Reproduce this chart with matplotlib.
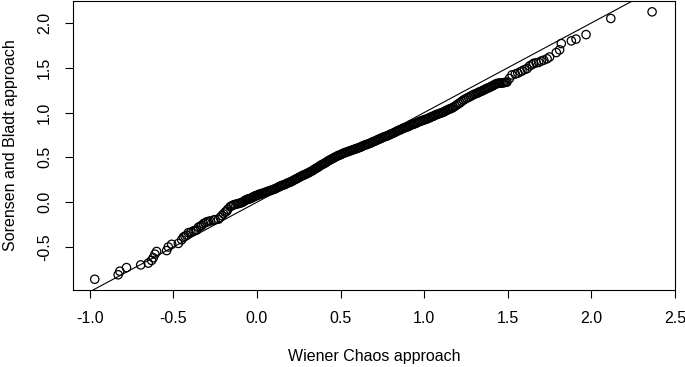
import matplotlib
matplotlib.use("Agg")
import matplotlib.pyplot as plt

plt.rcParams['font.family'] = ['Liberation Sans', 'DejaVu Sans']

# Sorted pairs: Wiener Chaos approach (x) vs Sorensen and Bladt approach (y)
# lower tail
low_x = [-0.97, -0.83, -0.82, -0.78, -0.695, -0.65, -0.63, -0.62, -0.61, -0.60,
         -0.54, -0.53, -0.51, -0.47, -0.45, -0.44, -0.43, -0.42, -0.41, -0.395,
         -0.38, -0.37, -0.36, -0.35, -0.34, -0.33, -0.32, -0.31, -0.30, -0.29,
         -0.28, -0.26, -0.25, -0.23, -0.22, -0.21, -0.20, -0.19, -0.18, -0.175,
         -0.16, -0.15, -0.14, -0.13, -0.12, -0.11]
low_y = [-0.86, -0.81, -0.77, -0.73, -0.70, -0.68, -0.65, -0.62, -0.58, -0.55,
         -0.54, -0.50, -0.47, -0.46, -0.42, -0.39, -0.38, -0.37, -0.34, -0.335,
         -0.32, -0.315, -0.31, -0.28, -0.27, -0.26, -0.24, -0.23, -0.22, -0.215,
         -0.21, -0.20, -0.195, -0.19, -0.17, -0.15, -0.13, -0.11, -0.10, -0.08,
         -0.05, -0.04, -0.03, -0.025, -0.02, -0.015]

# dense middle band
mid_x = [-0.100, -0.092, -0.085, -0.078, -0.070, -0.065, -0.060, -0.055, -0.050, -0.045,
         -0.040, -0.035, -0.030, -0.025, -0.020, -0.015, -0.010, -0.005, 0.000, 0.005,
         0.010, 0.015, 0.020, 0.028, 0.035, 0.043, 0.050, 0.058, 0.065, 0.073,
         0.080, 0.088, 0.095, 0.103, 0.110, 0.118, 0.125, 0.133, 0.140, 0.148,
         0.155, 0.163, 0.170, 0.178, 0.185, 0.193, 0.200, 0.208, 0.215, 0.223,
         0.230, 0.238, 0.245, 0.253, 0.260, 0.268, 0.275, 0.283, 0.290, 0.298,
         0.305, 0.313, 0.320, 0.328, 0.335, 0.343, 0.350, 0.358, 0.365, 0.373,
         0.380, 0.388, 0.395, 0.403, 0.410, 0.418, 0.425, 0.433, 0.440, 0.448,
         0.455, 0.463, 0.470, 0.478, 0.485, 0.493, 0.500, 0.508, 0.515, 0.523,
         0.530, 0.538, 0.545, 0.553, 0.560, 0.568, 0.575, 0.583, 0.590, 0.598,
         0.605, 0.613, 0.620, 0.628, 0.635, 0.643, 0.650, 0.658, 0.665, 0.673,
         0.680, 0.688, 0.695, 0.703, 0.710, 0.718, 0.725, 0.733, 0.740, 0.748,
         0.755, 0.763, 0.770, 0.778, 0.785, 0.793, 0.800, 0.808, 0.815, 0.823,
         0.830, 0.838, 0.845, 0.853, 0.860, 0.868, 0.875, 0.883, 0.890, 0.898,
         0.905, 0.913, 0.920, 0.928, 0.935, 0.943, 0.950, 0.958, 0.965, 0.973,
         0.980, 0.988, 0.995, 1.003, 1.010, 1.018, 1.025, 1.033, 1.040, 1.048,
         1.055, 1.063, 1.070, 1.078, 1.085, 1.093, 1.100, 1.108, 1.115, 1.123,
         1.130, 1.138, 1.145, 1.153, 1.160, 1.168, 1.175, 1.185, 1.195, 1.205,
         1.215, 1.225, 1.235, 1.245, 1.255, 1.265, 1.275, 1.285, 1.295, 1.305,
         1.315, 1.323, 1.330, 1.338, 1.345, 1.353, 1.360, 1.368, 1.375, 1.383,
         1.390, 1.398, 1.405, 1.413, 1.420, 1.428, 1.435, 1.443, 1.450, 1.458,
         1.465, 1.473, 1.480, 1.488, 1.495]
mid_y = [-0.010, -0.005, 0.000, 0.010, 0.020, 0.025, 0.030, 0.032, 0.035, 0.038,
         0.040, 0.045, 0.050, 0.055, 0.060, 0.065, 0.070, 0.072, 0.075, 0.080,
         0.085, 0.088, 0.090, 0.095, 0.100, 0.105, 0.110, 0.115, 0.120, 0.125,
         0.130, 0.135, 0.140, 0.145, 0.150, 0.158, 0.165, 0.172, 0.180, 0.185,
         0.190, 0.195, 0.200, 0.208, 0.215, 0.220, 0.225, 0.232, 0.240, 0.248,
         0.255, 0.262, 0.270, 0.278, 0.285, 0.292, 0.300, 0.305, 0.310, 0.318,
         0.325, 0.332, 0.340, 0.348, 0.355, 0.365, 0.375, 0.382, 0.390, 0.400,
         0.410, 0.418, 0.425, 0.432, 0.440, 0.450, 0.460, 0.468, 0.475, 0.482,
         0.490, 0.498, 0.505, 0.512, 0.520, 0.525, 0.530, 0.538, 0.545, 0.550,
         0.555, 0.560, 0.565, 0.570, 0.575, 0.580, 0.585, 0.590, 0.595, 0.600,
         0.605, 0.610, 0.615, 0.622, 0.630, 0.635, 0.640, 0.645, 0.650, 0.655,
         0.660, 0.668, 0.675, 0.680, 0.685, 0.692, 0.700, 0.705, 0.710, 0.718,
         0.725, 0.730, 0.735, 0.740, 0.745, 0.752, 0.760, 0.765, 0.770, 0.778,
         0.785, 0.792, 0.800, 0.805, 0.810, 0.818, 0.825, 0.830, 0.835, 0.840,
         0.845, 0.852, 0.860, 0.865, 0.870, 0.875, 0.880, 0.888, 0.895, 0.900,
         0.905, 0.910, 0.915, 0.920, 0.925, 0.930, 0.935, 0.942, 0.950, 0.955,
         0.960, 0.968, 0.975, 0.980, 0.985, 0.990, 0.995, 1.000, 1.005, 1.012,
         1.020, 1.028, 1.035, 1.040, 1.045, 1.052, 1.060, 1.072, 1.085, 1.098,
         1.110, 1.125, 1.140, 1.150, 1.160, 1.170, 1.180, 1.190, 1.200, 1.208,
         1.215, 1.222, 1.230, 1.235, 1.240, 1.248, 1.255, 1.262, 1.270, 1.275,
         1.280, 1.288, 1.295, 1.302, 1.310, 1.318, 1.325, 1.326, 1.328, 1.329,
         1.330, 1.332, 1.335, 1.338, 1.340]

# upper tail
high_x = [1.51, 1.525, 1.545, 1.56, 1.575, 1.585, 1.60, 1.615, 1.63, 1.645,
          1.655, 1.67, 1.685, 1.70, 1.715, 1.735, 1.75, 1.79, 1.81, 1.82,
          1.88, 1.908, 1.968, 2.116, 2.363]
high_y = [1.38, 1.42, 1.43, 1.44, 1.455, 1.465, 1.48, 1.49, 1.52, 1.535,
          1.55, 1.555, 1.56, 1.575, 1.585, 1.60, 1.62, 1.67, 1.70, 1.77,
          1.80, 1.82, 1.87, 2.05, 2.124]

wiener = low_x + mid_x + high_x
sorensen = low_y + mid_y + high_y

x_ticks = [-1.0, -0.5, 0.0, 0.5, 1.0, 1.5, 2.0, 2.5]
y_ticks = [-0.5, 0.0, 0.5, 1.0, 1.5, 2.0]

fig = plt.figure(figsize=(6.85, 3.67), dpi=100)
ax = fig.add_axes([73/685, 1 - 290/367, (675 - 73)/685, (290 - 1)/367])

ax.scatter(wiener, sorensen, s=36, facecolors='none', edgecolors='black', linewidths=0.9, zorder=3)
ax.axline((0, 0), slope=1, color='black', linewidth=0.8, zorder=2)

ax.set_xlim(-1.10, 2.50)
ax.set_ylim(-0.98, 2.245)
ax.set_xticks(x_ticks)
ax.set_xticklabels([f"{v:.1f}" for v in x_ticks])
ax.set_yticks(y_ticks)
ax.set_yticklabels([f"{v:.1f}" for v in y_ticks], rotation=90, va='center')

ax.tick_params(axis='both', direction='out', length=6, width=0.8, labelsize=11.5, pad=9, color='black')
for sp in ax.spines.values():
    sp.set_linewidth(0.8)
    sp.set_color('black')

ax.set_xlabel("Wiener Chaos approach", fontsize=11.5, labelpad=17)
ax.set_ylabel("Sorensen and Bladt approach", fontsize=11.5, labelpad=14)

fig.savefig("out.png", dpi=100)
